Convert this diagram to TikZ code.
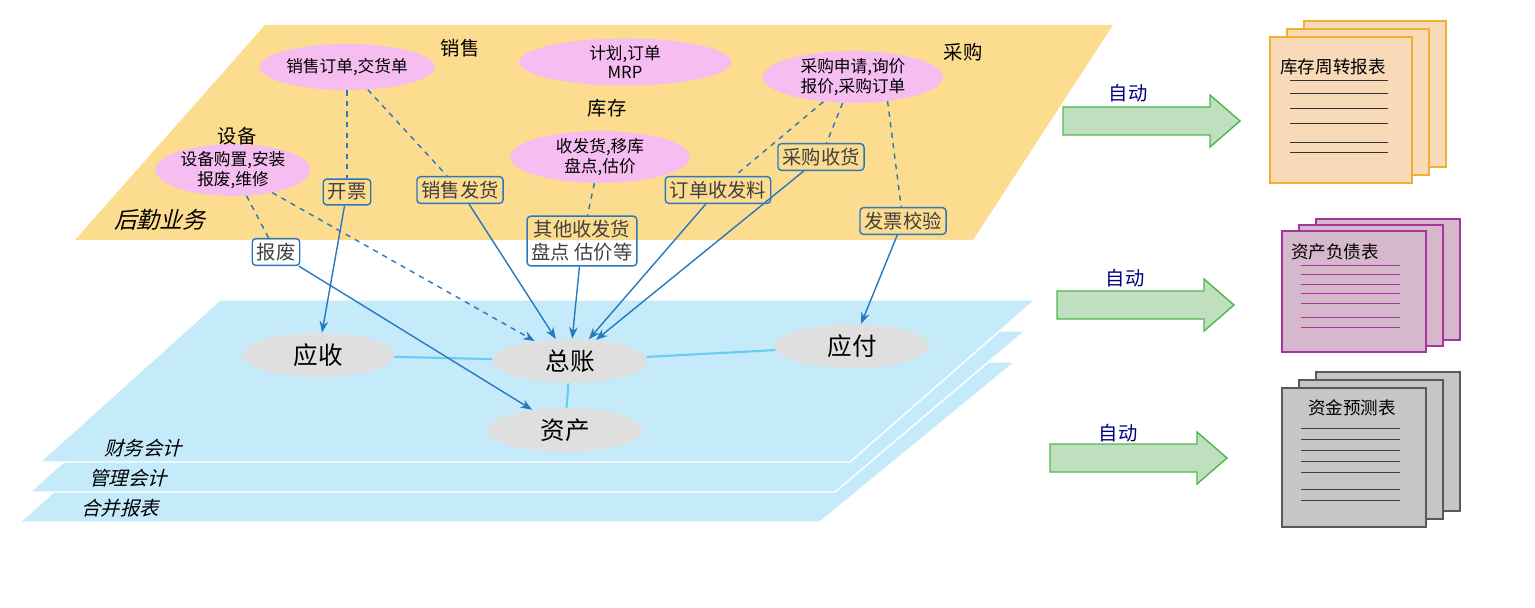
\documentclass[tikz,border=0pt]{standalone}
\usepackage{fontspec}
\setmainfont{Noto Sans CJK SC}
\usetikzlibrary{arrows.meta,shapes.geometric,positioning}
\definecolor{plane}{HTML}{FCDC8E}
\definecolor{fin}{HTML}{C5EBFA}
\definecolor{bubble}{HTML}{F5BDF0}
\definecolor{lnk}{HTML}{2878C0}
\definecolor{peach}{HTML}{F8D9B8}
\definecolor{gold}{HTML}{EEB030}
\definecolor{mauve}{HTML}{D5B8CC}
\definecolor{plum}{HTML}{A8359C}

\begin{document}
\begin{tikzpicture}[
    x=0.02cm, y=-0.02cm,
    >=Stealth,
    biz/.style={ellipse, fill=bubble, minimum width=175*0.02cm, minimum height=46*0.02cm,
                inner sep=0pt, align=center, font=\fontsize{9.5}{11}\selectfont},
    acct/.style={ellipse, fill=gray!25, minimum width=152*0.02cm, minimum height=44*0.02cm,
                 inner sep=0pt, font=\fontsize{14}{16}\selectfont},
    tag/.style={draw=lnk, thick, rounded corners=2pt, align=center, inner sep=2.5pt,
                text=black!75, font=\fontsize{11}{13}\selectfont},
    area/.style={font=\fontsize{11}{13}\selectfont},
    layer/.style={xslant=0.25, font=\fontsize{11}{13}\selectfont},
    dashlink/.style={draw=lnk, thick, dashed},
    flow/.style={draw=lnk, thick, ->},
    acctlink/.style={draw=cyan!60, very thick},
    autoarrow/.style={draw=green!60!black!70, thick, fill=green!50!black!25},
    sheet/.style={draw=#1, thick}
]
\useasboundingbox (0,0) rectangle (1535,608);

% accounting layers
\fill[fin] (200,362) -- (1015,362) -- (820,522) -- (20,522) -- cycle;
\draw[white,thick] (200,362) -- (1015,362) -- (820,522) -- (20,522) -- cycle;
\fill[fin] (210,331) -- (1025,331) -- (835,492) -- (30,492) -- cycle;
\draw[white,thick] (210,331) -- (1025,331) -- (835,492) -- (30,492) -- cycle;
\fill[fin] (220,300) -- (1035,300) -- (850,462) -- (40,462) -- cycle;
\draw[white,thick] (220,300) -- (1035,300) -- (850,462) -- (40,462) -- cycle;
\node[layer] (fa) at (145,448) {财务会计};
\node[layer] (ma) at (130,478) {管理会计};
\node[layer] (ca) at (122,508) {合并报表};

% logistics plane
\fill[plane] (265,25) -- (1113,25) -- (973,240) -- (75,240) -- cycle;
\node[layer, font=\fontsize{13}{15}\selectfont] (log) at (162,220) {后勤业务};

% business objects
\node[biz] (so) at (347,67) {销售订单,交货单};
\node[biz, minimum width=212*0.02cm] (mrp) at (625,62) {计划,订单\\MRP};
\node[biz, minimum width=180*0.02cm, minimum height=50*0.02cm] (po) at (853,77) {采购申请,询价\\报价,采购订单};
\node[biz, minimum width=180*0.02cm, minimum height=50*0.02cm] (inv) at (600,157) {收发货,移库\\盘点,估价};
\node[biz, minimum width=155*0.02cm, minimum height=50*0.02cm] (eq) at (233,170) {设备购置,安装\\报废,维修};
\node[area] (lsale) at (460,48) {销售};
\node[area] (linv) at (607,108) {库存};
\node[area] (lbuy) at (963,52) {采购};
\node[area] (leq) at (237,136) {设备};

% accounts
\node[acct] (ar) at (318,355) {应收};
\node[acct, minimum width=155*0.02cm] (gl) at (570,361) {总账};
\node[acct, minimum width=155*0.02cm] (ap) at (852,346) {应付};
\node[acct, minimum width=155*0.02cm] (fa2) at (565,430) {资产};
\draw[acctlink] (ar) -- (gl);
\draw[acctlink] (gl) -- (ap);
\draw[acctlink] (gl) -- (fa2);

% transactions
\node[tag] (bill) at (347,192) {开票};
\node[tag] (ship) at (460,190) {销售发货};
\node[tag] (other) at (582,241) {其他收发货\\盘点 估价等};
\node[tag] (order) at (718,190) {订单收发料};
\node[tag] (recv) at (821,157) {采购收货};
\node[tag] (check) at (903,221) {发票校验};
\node[tag] (scrap) at (276,252) {报废};

\draw[dashlink] (so) -- (bill);
\draw[dashlink] (so) -- (ship);
\draw[dashlink] (inv) -- (other);
\draw[dashlink] (po) -- (order);
\draw[dashlink] (po) -- (recv);
\draw[dashlink] (po.-35) -- (check);
\draw[dashlink] (eq) -- (scrap);
\draw[dashlink,->] (eq.-30) -- (gl);
\draw[flow] (bill) -- (ar);
\draw[flow] (ship) -- (gl);
\draw[flow] (other) -- (gl);
\draw[flow] (order) -- (gl);
\draw[flow] (recv) -- (gl);
\draw[flow] (check) -- (ap);
\draw[flow] (scrap) -- (fa2);

% reports
\foreach \ax/\ay in {1063/121, 1057/305, 1050/458}
  \draw[autoarrow] (\ax,\ay-14) -- ++(147,0) -- ++(0,-12) -- ++(30,26) -- ++(-30,26)
        -- ++(0,-12) -- ++(-147,0) -- cycle;
\node[text=blue!50!black, font=\fontsize{11}{13}\selectfont] (t1) at (1128,93) {自动};
\node[text=blue!50!black, font=\fontsize{11}{13}\selectfont] (t2) at (1125,278) {自动};
\node[text=blue!50!black, font=\fontsize{11}{13}\selectfont] (t3) at (1118,433) {自动};

\foreach \d in {2,1,0}
  \draw[sheet=gold, fill=peach] (1270+17*\d,37-8*\d) rectangle (1412+17*\d,183-8*\d);
\foreach \y in {80,93,108,123,142,152}
  \draw[black!80] (1290,\y) -- (1388,\y);
\node[font=\fontsize{10}{12}\selectfont] (r1) at (1333,67) {库存周转报表};

\foreach \d in {2,1,0}
  \draw[sheet=plum, fill=mauve] (1282+17*\d,231-6*\d) rectangle (1426+17*\d,352-6*\d);
\foreach \y in {265,274,284,293,303,317,327}
  \draw[plum] (1301,\y) -- (1400,\y);
\node[font=\fontsize{10}{12}\selectfont] (r2) at (1335,252) {资产负债表};

\foreach \d in {2,1,0}
  \draw[sheet=gray!70!black, fill=gray!45] (1282+17*\d,388-8*\d) rectangle (1426+17*\d,527-8*\d);
\foreach \y in {428,439,450,461,472,489,500}
  \draw[gray!50!black] (1301,\y) -- (1400,\y);
\node[font=\fontsize{10}{12}\selectfont] (r3) at (1352,408) {资金预测表};
\end{tikzpicture}
\end{document}
